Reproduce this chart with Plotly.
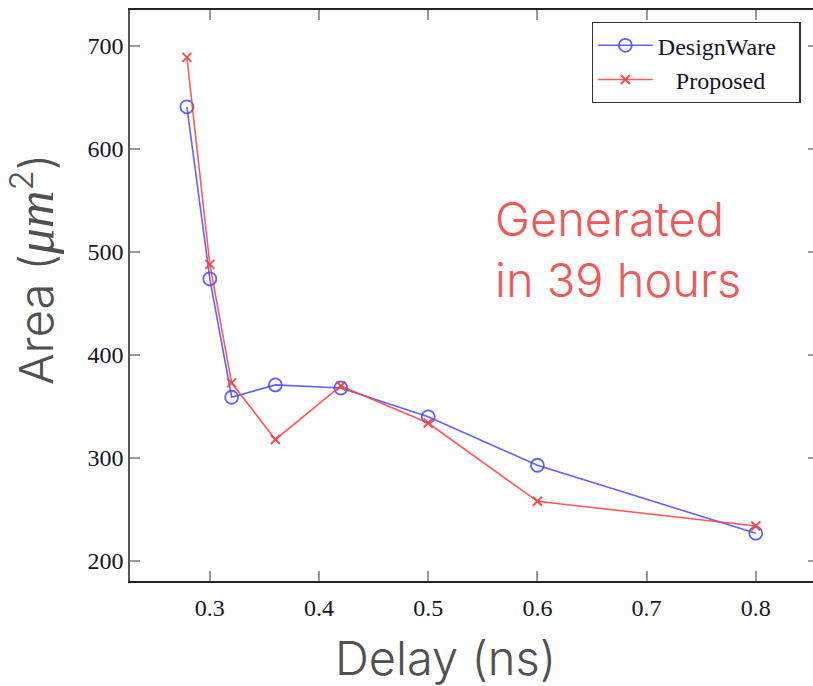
import plotly.graph_objects as go

delay = [0.279, 0.30, 0.32, 0.36, 0.42, 0.50, 0.60, 0.80]
designware = [641, 474, 359, 371, 368, 340, 293, 227]
proposed = [689, 488, 373, 318, 370, 334, 258, 234]
x_ticks = [0.3, 0.4, 0.5, 0.6, 0.7, 0.8]
y_ticks = [200, 300, 400, 500, 600, 700]
series_names = ["DesignWare", "Proposed"]

NB = "\u00a0"
fig = go.Figure()
fig.add_trace(go.Scatter(
    x=delay, y=designware, name=series_names[0] + NB * 3, mode="lines+markers",
    line=dict(color="rgba(70,70,255,0.85)", width=1.6),
    marker=dict(symbol="circle-open", size=13, color="rgba(70,70,255,0.85)", line=dict(width=1.8)),
))
fig.add_trace(go.Scatter(
    x=delay, y=proposed, name=NB * 3 + series_names[1], mode="lines+markers",
    line=dict(color="rgba(255,60,60,0.85)", width=1.6),
    marker=dict(symbol="x-thin-open", size=9, color="rgba(255,60,60,0.9)", line=dict(width=2, color="rgba(255,60,60,0.9)")),
))

axis_common = dict(
    showgrid=False, zeroline=False, showline=True, mirror="allticks",
    ticks="inside", ticklen=10, tickwidth=1.5, tickcolor="#9a9a9a",
    tickfont=dict(family="Liberation Serif", size=24, color="#14142a"),
)
fig.update_xaxes(range=[0.2269, 0.857], tickvals=x_ticks, ticktext=[f"{v:.1f}" for v in x_ticks],
                 linecolor="#222222", linewidth=1.5, ticklabelstandoff=4, **axis_common)
fig.update_yaxes(range=[180.6, 735], tickvals=y_ticks, ticktext=[str(v) for v in y_ticks],
                 linecolor="#555555", linewidth=1.5, **axis_common)

title_font = dict(family="Inter", size=47, color="#505050", weight=300)
fig.add_annotation(xref="paper", yref="paper", x=-0.1406, y=0.545, xanchor="center", yanchor="middle",
                   textangle=-90, showarrow=False,
                   text="Area (<span style='font-family:Liberation Serif;font-size:52px'><i>μm</i></span><sup>2</sup>)",
                   font=title_font)
fig.add_annotation(xref="paper", yref="paper", x=0.458, y=-0.134, xanchor="center", yanchor="middle",
                   showarrow=False, text="Delay (ns)", font=title_font)
fig.add_annotation(xref="paper", yref="paper", x=0.5275, y=0.581, xanchor="left", yanchor="middle",
                   align="left", showarrow=False, text="Generated<br>in 39 hours",
                   font=dict(family="Inter", size=47, color="#f25858", weight=300))

fig.update_layout(
    width=820, height=686,
    margin=dict(l=130, r=0, t=10, b=105),
    plot_bgcolor="white", paper_bgcolor="white",
    showlegend=True,
    legend=dict(x=0.671, y=0.979, xanchor="left", yanchor="top",
                bgcolor="white", bordercolor="#333333", borderwidth=1.2,
                font=dict(family="Liberation Serif", size=24, color="#14142a"),
                itemwidth=55, tracegroupgap=0),
)
fig.write_html("out.html", config={"displayModeBar": False},
               post_script="document.body.style.margin='0';document.body.style.overflow='hidden';")
